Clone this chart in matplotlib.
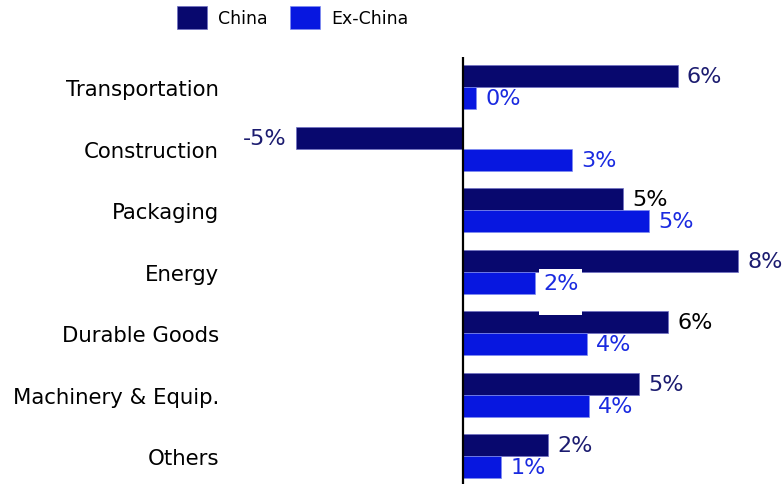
"""Horizontal grouped bars: China vs Ex-China growth by end market."""

import matplotlib.pyplot as plt
from matplotlib.patches import Rectangle

# --- data -------------------------------------------------------------------
SECTORS = [
    "Transportation",
    "Construction",
    "Packaging",
    "Energy",
    "Durable Goods",
    "Machinery & Equip.",
    "Others",
]
CHINA = [6.14, -4.78, 4.58, 7.86, 5.87, 5.04, 2.43]
EX_CHINA = [0.38, 3.11, 5.31, 2.05, 3.55, 3.60, 1.09]
SERIES_NAMES = ["China", "Ex-China"]

# --- style ------------------------------------------------------------------
CHINA_COLOR = "#08086e"
EX_CHINA_COLOR = "#0717e0"
CHINA_TEXT = "#1c1c70"
EX_CHINA_TEXT = "#1a2ae0"
BLACK_LABELS = {"Packaging", "Durable Goods"}
BAR_H = 0.36

plt.rcParams["font.family"] = ["DejaVu Sans"]

fig = plt.figure(figsize=(7.84, 4.85), dpi=100)
ax = fig.add_axes([232 / 784, 0.0, 1 - 232 / 784, 1 - 58 / 485])

ypos = list(range(len(SECTORS)))
china_y = [y - BAR_H / 2 for y in ypos]
ex_y = [y + BAR_H / 2 for y in ypos]

bars_cn = ax.barh(china_y, CHINA, height=BAR_H, color=CHINA_COLOR,
                  edgecolor="#6f6fc4", linewidth=0.5, label=SERIES_NAMES[0], zorder=2)
bars_ex = ax.barh(ex_y, EX_CHINA, height=BAR_H, color=EX_CHINA_COLOR,
                  edgecolor="#7f8cf0", linewidth=0.5, label=SERIES_NAMES[1], zorder=2)

ax.axvline(0, color="black", linewidth=1.6, zorder=5)

pad = 0.26
for name, y, v in zip(SECTORS, china_y, CHINA):
    color = "black" if name in BLACK_LABELS else CHINA_TEXT
    ha = "left" if v >= 0 else "right"
    x = v + pad if v >= 0 else v - pad
    ax.text(x, y, f"{v:.0f}%", ha=ha, va="center", fontsize=16,
            color=color, zorder=4)

for name, y, v in zip(SECTORS, ex_y, EX_CHINA):
    ax.text(v + pad, y, f"{v:.0f}%", ha="left", va="center", fontsize=16,
            color=EX_CHINA_TEXT, zorder=4)
    if name == "Energy":
        # white backing box behind this label, overlapping neighbouring bars
        ax.add_patch(Rectangle((v + 0.12, y - BAR_H / 2 - 0.05), 1.22, 0.75,
                               facecolor="white", edgecolor="none", zorder=3))

ax.set_xlim((232 - 463) / 35, (784 - 463) / 35)
ax.set_ylim(6.45, -0.493)
ax.set_yticks(ypos)
ax.set_yticklabels(SECTORS, fontsize=15.3)
ax.tick_params(axis="y", length=0, pad=9.4)
ax.set_xticks([])
for side in ["left", "right", "top", "bottom"]:
    ax.spines[side].set_visible(False)

fig.legend(handles=[bars_cn, bars_ex], labels=SERIES_NAMES, loc="upper left",
           bbox_to_anchor=(177 / 784, 1 - 7 / 485), ncol=2, frameon=False,
           fontsize=12.5, handlelength=1.75, handleheight=1.65, handletextpad=0.6,
           columnspacing=1.3, borderpad=0, borderaxespad=0)

fig.savefig("out.png", dpi=100)
